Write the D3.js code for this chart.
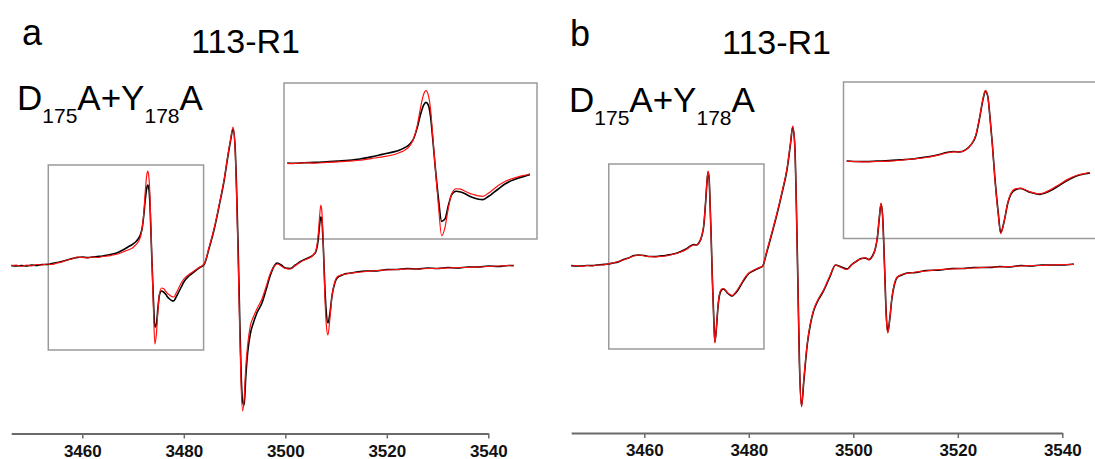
<!DOCTYPE html>
<html><head><meta charset="utf-8">
<script src="https://cdn.jsdelivr.net/npm/d3@7"></script>
<style>
body{margin:0;background:#fff}
svg{display:block}
text{font-family:"Liberation Sans",Arial,Helvetica,sans-serif}
</style>
</head><body>
<svg id="c" width="1095" height="459"></svg>
<script>
// ---------------- data ----------------
const tickValues = [3460, 3480, 3500, 3520, 3540];
const panelLabels = ["a", "b"];
const titles = ["113-R1", "113-R1"];

// panel a : magnetic field (G)
const fieldsA = [
 3446,3447,3448,3449,3450,3451,3452,3453,3454,3455,
 3456,3457,3458,3459,3460,3461,3462,3463,3464,3465,
 3466,3467,3468,3469,3470,3470.5,3471,3471.5,3471.8,3472.1,
 3472.4,3472.7,3472.9,3473.1,3473.3,3473.5,3473.7,3474.0,3474.3,3474.6,
 3474.9,3475.2,3475.6,3476.0,3476.4,3476.8,3477.2,3477.6,3478.0,3478.5,
 3479,3479.5,3480,3481,3482,3483,3484,3485,3486,3487,
 3488,3488.6,3489.2,3489.7,3490.1,3490.4,3490.7,3491.0,3491.3,3491.6,
 3491.9,3492.2,3492.6,3493.1,3493.7,3494.4,3495.4,3496.2,3497,3497.7,
 3498.4,3499.2,3500,3501,3502,3503,3504,3504.9,3505.5,3506,
 3506.5,3506.8,3507.0,3507.2,3507.5,3507.8,3508.1,3508.4,3508.8,3509.2,
 3509.7,3510.2,3511,3512,3513,3514,3516,3518,3520,3522,
 3524,3526,3528,3530,3532,3534,3536,3538,3540,3542,
 3544,3545
];
const blackA = [
 0.5,0,0.5,0,1,0.5,1.5,1.5,2.5,3.5,
 4.5,6,7.5,8.5,9,8.5,9,9.5,10,11,
 12,13.5,16,19,22,24,27,32,38,50,
 66,78,81,78,65,38,8,-32,-61,-58,
 -42,-29,-25,-26,-28,-31,-33,-34.5,-35,-31,
 -26,-21,-16,-10,-6,-2,1.5,18,37,61,
 87,107,125,137,120,78,20,-48,-108,-136,
 -139,-112,-86,-68,-57,-47,-37,-24,-10,-1,
 3,1,-2,-2.5,1,4.5,7,9,11,14,
 27,43,49,46,18,-22,-48,-57,-47,-30,
 -18,-12,-9.5,-7.5,-7,-6,-5,-5,-3.5,-3.5,
 -2.5,-3,-2,-2.5,-1.5,-2,-1,-1,0,-0.5,
 0.5,0.5
];
const redA = [
 0,1,-0.5,1,0,1.5,1,2,1.5,3,
 4,6,7,9,8.5,8,9,8.5,9.5,10,
 11,12,14,16,18.5,21,24,30,38,52,
 74,91,95,90,74,42,8,-40,-78,-68,
 -45,-28,-22,-22.5,-25,-27.5,-29,-30.5,-31,-27,
 -22,-17,-13,-8.5,-5,-1.5,2,19,38,62,
 88,108,126,139,118,70,10,-60,-120,-145,
 -132,-102,-78,-60,-51,-43,-33,-21,-8,-1,
 2,0,-2.5,-3,0.5,4,6.5,8.5,11,15,
 32,52,61,55,20,-30,-60,-69,-52,-30,
 -17,-11,-9,-8,-7,-6.5,-5.5,-4.5,-4,-3.5,
 -3,-3,-2.5,-2.5,-2,-1.5,-1.5,-1,-0.5,0,
 0.5,0
];

// panel b : magnetic field (G)
const fieldsB = [
 3446,3447,3448,3449,3450,3451,3452,3453,3454,3455,
 3456,3457,3458,3459,3460,3461,3462,3463,3464,3465,
 3466,3467,3468,3469,3469.5,3470,3470.5,3471,3471.4,3471.7,
 3472.0,3472.2,3472.4,3472.6,3472.8,3473.0,3473.3,3473.5,3473.8,3474.1,
 3474.4,3474.8,3475.2,3475.6,3476.0,3476.4,3476.8,3477.2,3477.8,3478.5,
 3479.2,3480,3481,3482,3482.6,3483.5,3484.5,3485.4,3486.4,3487.3,
 3488.0,3488.4,3488.8,3489.1,3489.4,3489.7,3490.1,3490.5,3491.2,3491.8,
 3492.4,3493.3,3494.3,3495.5,3496.6,3497.5,3498.8,3499.7,3500.7,3501.5,
 3502.3,3503.0,3503.6,3504.2,3504.6,3505.0,3505.3,3505.6,3506.0,3506.3,
 3506.6,3507.0,3507.4,3507.9,3508.4,3509.3,3510.3,3512,3514,3516.7,
 3519,3521,3523,3526.2,3528,3530,3532,3534,3536,3538,
 3540,3542.2
];
const blackB = [
 0.5,0,0,0.5,0.5,1,1.5,2,3,4,
 6.5,8,10.5,11,10.5,9.5,9.5,10,10.5,11.5,
 12.5,14.5,17,20.5,21.5,21,23.5,30,41,61,
 84,94,88,61,29,-9,-53,-76,-62,-41,
 -29,-24,-23,-25,-27.5,-29,-30,-28.5,-25,-19,
 -13,-7.5,-4.5,-2,-0.5,15,34,52,74,96,
 123,139,121,62,-18,-98,-140,-117,-78,-58,
 -45,-34,-25,-11,1,-0.5,-3,1.5,5,7.5,
 8,6.5,9.5,17,28,49,62,51,-3,-48,
 -66,-52,-32,-18,-11.5,-9,-7,-6.5,-4.5,-4,
 -2.5,-2.5,-1.5,-1.5,-0.5,-1,0.5,0,1,1,
 1,2
];
const redB = [
 0,0.5,-0.5,0.5,0,1,1,2,3,4.5,
 6,8,10,11,10,9.5,9,9.5,10,11,
 12.5,14,16.5,20,21,21,23,30,42,62,
 85,95,88,60,28,-10,-55,-77,-62,-40,
 -28,-23,-22.5,-24.5,-27,-28.5,-29.5,-28,-24,-18,
 -12,-7,-4,-1.5,-0.5,16,35,53,75,97,
 124,140,120,60,-20,-100,-141,-115,-77,-57,
 -44,-33,-24,-10,1,-1,-3.5,1,5.5,7,
 8.5,6,9,17,29,50,63,50,-5,-50,
 -67,-52,-31,-17,-11,-8.5,-7.5,-6,-5,-3.5,
 -3,-2.5,-2,-1,-1,-0.5,0,0.5,0.5,1,
 1.5,1.7
];

// zoom region marked in each main spectrum (field range, amplitude range)
const zoomFieldA = [3453.3, 3483.9], zoomAmpA = [-84, 101];
const zoomFieldB = [3453.2, 3482.9], zoomAmpB = [-83, 102];
// field range shown in each inset
const insetFieldA = [3460.5, 3482.2];
const insetFieldB = [3460.4, 3481.1];

// ---------------- layout ----------------
const panels = [
  {label: panelLabels[0], title: titles[0], fields: fieldsA, black: blackA, red: redA,
   xRange: [11.25, 488.3], axisY: 433.5, labelXY: [22, 45], titleXY: [191, 53], mutXY: [17, 110],
   zoomF: zoomFieldA, zoomA: zoomAmpA,
   inset: {frame: [284, 83, 253, 156], xDomain: insetFieldA, xRange: [287.3, 530], y0: 170.3, k: 0.838}},
  {label: panelLabels[1], title: titles[1], fields: fieldsB, black: blackB, red: redB,
   xRange: [571.15, 1062.3], axisY: 433, labelXY: [570, 46], titleXY: [722, 54], mutXY: [569, 111.5],
   zoomF: zoomFieldB, zoomA: zoomAmpB,
   inset: {frame: [843.5, 82, 262, 156.5], xDomain: insetFieldB, xRange: [846.7, 1090], y0: 169.4, k: 0.833}}
];

const svg = d3.select("#c");
svg.append("rect").attr("width", 1095).attr("height", 459).attr("fill", "#fff");
const defs = svg.append("defs");

panels.forEach((p, i) => {
  const g = svg.append("g");
  const x = d3.scaleLinear().domain([3446, 3540]).range(p.xRange);
  const y = d3.scaleLinear().domain([-150, 150]).range([416, 116]);
  const blk = p.fields.map((f, j) => [f, p.black[j]]);
  const red = p.fields.map((f, j) => [f, p.red[j]]);

  // zoom box on main spectrum
  g.append("rect")
    .attr("x", x(p.zoomF[0])).attr("y", y(p.zoomA[1]))
    .attr("width", x(p.zoomF[1]) - x(p.zoomF[0]))
    .attr("height", y(p.zoomA[0]) - y(p.zoomA[1]))
    .attr("fill", "none").attr("stroke", "#9a9a9a").attr("stroke-width", 1.5);

  // inset frame
  const fr = p.inset.frame;
  g.append("rect").attr("x", fr[0]).attr("y", fr[1]).attr("width", fr[2]).attr("height", fr[3])
    .attr("fill", "none").attr("stroke", "#9a9a9a").attr("stroke-width", 1.5);

  // main spectra
  const line = d3.line().x(d => x(d[0])).y(d => y(d[1])).curve(d3.curveMonotoneX);
  g.append("path").attr("d", line(blk)).attr("fill", "none").attr("stroke", "#000").attr("stroke-width", 1.6);
  g.append("path").attr("d", line(red)).attr("fill", "none").attr("stroke", "#ff1010").attr("stroke-width", 1.2);

  // inset spectra
  const xi = d3.scaleLinear().domain(p.inset.xDomain).range(p.inset.xRange);
  const yi = d3.scaleLinear().domain([0, 100]).range([p.inset.y0, p.inset.y0 - 100 * p.inset.k]);
  const cid = "clip" + i;
  defs.append("clipPath").attr("id", cid).append("rect")
    .attr("x", p.inset.xRange[0]).attr("y", fr[1]).attr("width", p.inset.xRange[1] - p.inset.xRange[0]).attr("height", fr[3]);
  const lineI = d3.line().x(d => xi(d[0])).y(d => yi(d[1])).curve(d3.curveMonotoneX);
  const inR = dd => dd.filter(d => d[0] >= p.inset.xDomain[0] - 2 && d[0] <= p.inset.xDomain[1] + 2);
  const gi = g.append("g").attr("clip-path", `url(#${cid})`);
  gi.append("path").attr("d", lineI(inR(blk))).attr("fill", "none").attr("stroke", "#000").attr("stroke-width", 1.6);
  gi.append("path").attr("d", lineI(inR(red))).attr("fill", "none").attr("stroke", "#ff1010").attr("stroke-width", 1.2);

  // axis
  const ax = g.append("g").attr("transform", `translate(0,${p.axisY})`)
    .call(d3.axisBottom(x).tickValues(tickValues).tickSize(5).tickSizeOuter(0).tickFormat(d3.format("d")));
  ax.select(".domain").attr("stroke", "#6a6a6a").attr("stroke-width", 2);
  ax.selectAll(".tick line").attr("stroke", "#6a6a6a").attr("stroke-width", 1.5);
  ax.selectAll(".tick text").attr("y", 23).attr("dy", 0)
    .attr("font-family", "'Liberation Sans',Arial,sans-serif")
    .attr("font-size", 17).attr("font-weight", "bold").attr("fill", "#111");

  // texts
  g.append("text").attr("x", p.labelXY[0]).attr("y", p.labelXY[1]).attr("font-size", 36).text(p.label);
  g.append("text").attr("x", p.titleXY[0]).attr("y", p.titleXY[1]).attr("font-size", 34).text(p.title);
  const t = g.append("text").attr("x", p.mutXY[0]).attr("y", p.mutXY[1]).attr("font-size", 35);
  t.append("tspan").text("D");
  t.append("tspan").attr("font-size", 21).attr("dy", 13).text("175");
  t.append("tspan").attr("dy", -13).text("A+Y");
  t.append("tspan").attr("font-size", 21).attr("dy", 13).text("178");
  t.append("tspan").attr("dy", -13).text("A");
});
</script>
</body></html>
